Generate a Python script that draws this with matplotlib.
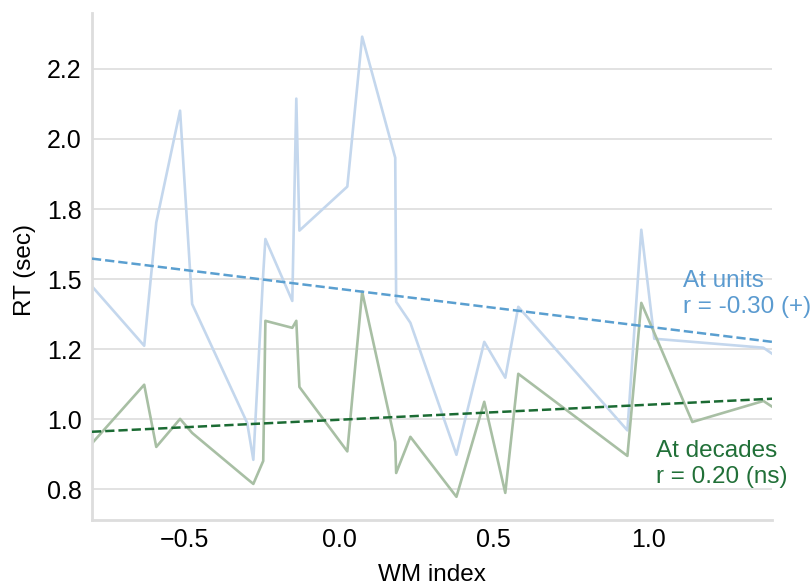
import numpy as np
import matplotlib
matplotlib.use("Agg")
import matplotlib.pyplot as plt

# WM index per participant (shared by both conditions)
wm_index = [-0.799, -0.631, -0.592, -0.515, -0.476, -0.298, -0.278, -0.246, -0.239,
            -0.152, -0.139, -0.129, 0.026, 0.074, 0.181, 0.184, 0.230, 0.379,
            0.469, 0.537, 0.579, 0.932, 0.977, 1.019, 1.142, 1.372, 1.401]

rt_units = [1.473, 1.262, 1.702, 2.101, 1.411, 0.987, 0.855, 1.52, 1.643,
            1.422, 2.144, 1.673, 1.830, 2.365, 1.933, 1.419, 1.344, 0.873,
            1.276, 1.148, 1.401, 0.960, 1.676, 1.287, 1.276, 1.255, 1.233]

rt_decades = [0.915, 1.123, 0.901, 1.001, 0.951, 0.787, 0.769, 0.851, 1.351,
              1.326, 1.351, 1.115, 0.885, 1.455, 0.919, 0.808, 0.937, 0.723,
              1.062, 0.737, 1.162, 0.869, 1.415, 1.308, 0.990, 1.065, 1.044]

# regression fits (slope, intercept) as drawn
fit_units = (-0.135, 1.465)
fit_decades = (0.0536, 0.998)

labels_units = "At units\nr = -0.30 (+)"
labels_decades = "At decades\nr = 0.20 (ns)"

plt.rcParams["font.family"] = ["Liberation Sans", "DejaVu Sans"]

fig = plt.figure(figsize=(8.11, 5.85), dpi=100)
ax = fig.add_axes([0.1134, 0.111, 0.8386, 0.867])

x = np.array(wm_index)
ax.plot(x, rt_units, color="#c4d7ed", lw=1.9, zorder=2)
ax.plot(x, rt_decades, color="#a8bfa4", lw=1.9, zorder=2)

xl = np.array([-0.8, 1.4])
ax.plot(xl, fit_units[0] * xl + fit_units[1], "--", color="#5a9fd0", lw=1.8, zorder=3)
ax.plot(xl, fit_decades[0] * xl + fit_decades[1], "--", color="#1b6b33", lw=1.8, zorder=3)

ax.text(1.113, 1.447, labels_units, color="#5b9bd0", fontsize=17.5,
        ha="left", va="center", linespacing=1.22, clip_on=False)
ax.text(1.023, 0.84, labels_decades, color="#217038", fontsize=17.5,
        ha="left", va="center", linespacing=1.22, clip_on=False)

ax.set_xlim(-0.8, 1.4)
ax.set_ylim(0.64, 2.45)
ax.set_xticks([-0.5, 0.0, 0.5, 1.0])
ax.set_yticks([0.75, 1.0, 1.25, 1.5, 1.75, 2.0, 2.25])
ax.yaxis.set_major_formatter(matplotlib.ticker.FormatStrFormatter("%.1f"))

ax.grid(axis="y", color="#dddddd", lw=1.2, zorder=0)
ax.set_axisbelow(True)
for s in ["top", "right"]:
    ax.spines[s].set_visible(False)
for s in ["left", "bottom"]:
    ax.spines[s].set_color("#dddddd")
    ax.spines[s].set_linewidth(2)

ax.tick_params(length=0, labelsize=18, colors="black")
ax.tick_params(axis="x", pad=5.5)
ax.tick_params(axis="y", pad=7.5)
ax.set_xlabel("WM index", fontsize=17.5)
ax.set_ylabel("RT (sec)", fontsize=17.5)
ax.xaxis.set_label_coords(0.5, -0.086)
ax.xaxis.label.set_va("top")
ax.yaxis.set_label_coords(-0.083, 0.493)

plt.savefig("out.png", dpi=100)
